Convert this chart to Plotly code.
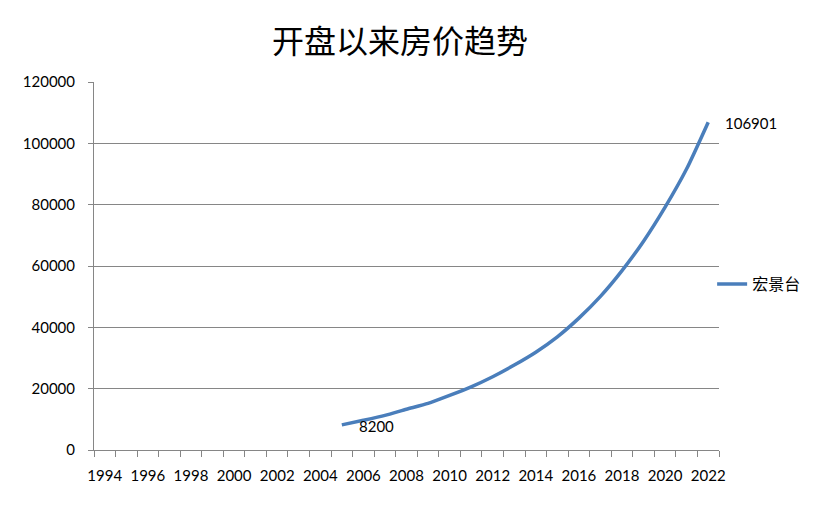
import plotly.graph_objects as go

title_text = "开盘以来房价趋势"
series_name = "宏景台"
years = list(range(2005, 2023))
prices = [8200, 9700, 11300, 13300, 15200, 17800, 20600, 23900, 27700,
          31900, 36900, 43000, 50100, 58500, 68100, 79200, 91700, 106901]
axis_years = list(range(1994, 2023))
label_years = axis_years[::2]
y_ticks = [0, 20000, 40000, 60000, 80000, 100000, 120000]

fig = go.Figure()
fig.add_trace(go.Scatter(
    x=years, y=prices, name=series_name, mode="lines",
    line=dict(color="#4a7ebb", width=3.5, shape="spline", smoothing=0.6),
    cliponaxis=False,
))

# data labels on first and last points
for i in (0, len(prices) - 1):
    fig.add_annotation(x=years[i], y=prices[i], text=str(prices[i]),
                       showarrow=False, xanchor="left", yanchor="middle",
                       xshift=15, yshift=-1,
                       font=dict(family="Lato, sans-serif", size=15, color="#000000"))

grid = "#868686"
W, H = 826, 504
fig.update_layout(
    width=W, height=H,
    paper_bgcolor="white", plot_bgcolor="white",
    margin=dict(l=86, r=115, t=74, b=62),
    title=dict(text=title_text, x=392 / W, xanchor="center",
               y=1 - 34 / H, yanchor="middle",
               font=dict(family="Noto Sans CJK SC", size=32, color="#000000")),
    font=dict(family="Lato, sans-serif", size=15, color="#000000"),
    showlegend=True,
    legend=dict(x=0.989, xanchor="left", y=0.451, yanchor="middle",
                font=dict(family="Noto Sans CJK SC", size=16, color="#000000"),
                bgcolor="rgba(0,0,0,0)"),
    xaxis=dict(
        range=[axis_years[0] - 0.5, axis_years[-1] + 0.5],
        tickmode="array", tickvals=label_years, ticktext=[str(v) for v in label_years],
        ticks="outside", ticklen=0, tickcolor=grid, ticklabelstandoff=12,
        showgrid=False, zeroline=False,
        showline=True, linecolor=grid, linewidth=1,
        minor=dict(tickmode="linear", tick0=axis_years[0] - 0.5, dtick=1,
                   ticks="outside", ticklen=6, tickcolor=grid, showgrid=False),
        tickfont=dict(family="Lato, sans-serif", size=15),
    ),
    yaxis=dict(
        range=[0, 120000], tickmode="array", tickvals=y_ticks, tickformat="d",
        ticks="outside", ticklen=5, tickcolor=grid, ticklabelstandoff=10,
        showgrid=True, gridcolor=grid, gridwidth=1, zeroline=False,
        showline=True, linecolor=grid, linewidth=1,
        tickfont=dict(family="Lato, sans-serif", size=15),
    ),
)

fig.write_html("out.html")
